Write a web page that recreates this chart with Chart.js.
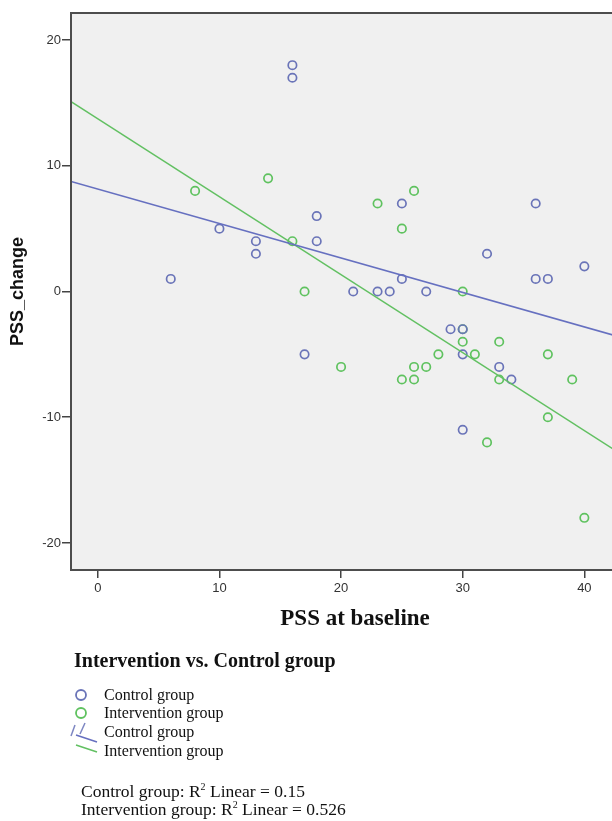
<!DOCTYPE html>
<html>
<head>
<meta charset="utf-8">
<script src="https://cdn.jsdelivr.net/npm/chart.js@4.4.1/dist/chart.umd.min.js"></script>
<style>
  html, body { margin: 0; padding: 0; background: #fff; overflow: hidden; width: 612px; height: 821px; }
  #wrap { position: absolute; left: 0; top: 0; width: 645px; height: 640px; }
  .serif { font-family: "Liberation Serif", "Times New Roman", serif; color: #111; position: absolute; white-space: nowrap; }
  .ttl { left: 74px; top: 649px; font-size: 20px; line-height: 22px; font-weight: bold; }
  .item { left: 104px; font-size: 16px; line-height: 18px; }
  .r2 { left: 81px; font-size: 17.5px; line-height: 18px; }
  .r2 sup { font-size: 10px; vertical-align: 0; position: relative; top: -7px; }
  svg { position: absolute; left: 0; top: 0; }
</style>
</head>
<body>
<div id="wrap"><canvas id="c" width="645" height="640"></canvas></div>
<svg width="612" height="821">
  <circle cx="81" cy="695" r="5" fill="none" stroke="#6a74b8" stroke-width="1.8"/>
  <circle cx="81" cy="713" r="5" fill="none" stroke="#5fc25f" stroke-width="1.8"/>
  <line x1="71" y1="736" x2="75" y2="725" stroke="#7d86c2" stroke-width="1.5"/>
  <line x1="80" y1="734" x2="85" y2="723" stroke="#7d86c2" stroke-width="1.5"/>
  <line x1="76" y1="735" x2="97" y2="742" stroke="#6670c0" stroke-width="1.5"/>
  <line x1="76" y1="745" x2="97" y2="752" stroke="#62c062" stroke-width="1.5"/>
</svg>
<div class="serif ttl">Intervention vs. Control group</div>
<div class="serif item" style="top:686px">Control group</div>
<div class="serif item" style="top:704px">Intervention group</div>
<div class="serif item" style="top:723px">Control group</div>
<div class="serif item" style="top:742px">Intervention group</div>
<div class="serif r2" style="top:782px">Control group: R<sup>2</sup> Linear = 0.15</div>
<div class="serif r2" style="top:800px">Intervention group: R<sup>2</sup> Linear = 0.526</div>
<script>
// Data
const controlX = [16, 16, 10, 13, 13, 18, 18, 6, 25, 36, 32, 40, 36, 37, 25, 21, 23, 24, 27, 17, 29, 30, 30, 33, 34, 30];
const controlY = [18, 17, 5, 4, 3, 6, 4, 1, 7, 7, 3, 2, 1, 1, 1, 0, 0, 0, 0, -5, -3, -3, -5, -6, -7, -11];
const interventionX = [8, 14, 16, 17, 23, 26, 25, 30, 30, 30, 33, 28, 31, 37, 20, 26, 27, 25, 26, 33, 39, 37, 32, 40];
const interventionY = [8, 9, 4, 0, 7, 8, 5, 0, -3, -4, -4, -5, -5, -5, -6, -6, -6, -7, -7, -7, -7, -10, -12, -18];
// Fit line ends (at the plot edges)
const lineX = [-2.2, 44.5];
const controlLineY = [8.75, -4.05];
const interventionLineY = [15.1, -13.85];
const xTicks = [0, 10, 20, 30, 40];
const yTicks = [-20, -10, 0, 10, 20];

const pts = (xs, ys) => xs.map((x, i) => ({ x: x, y: ys[i] }));

const frame = {
  id: 'frame',
  beforeDatasetsDraw(chart) {
    const a = chart.chartArea, ctx = chart.ctx;
    ctx.save();
    ctx.fillStyle = '#f0f0f0';
    ctx.fillRect(a.left, a.top, a.right - a.left, a.bottom - a.top);
    ctx.restore();
  },
  afterDraw(chart) {
    const a = chart.chartArea, ctx = chart.ctx;
    ctx.save();
    ctx.strokeStyle = '#4d4d4d';
    ctx.lineWidth = 2;
    ctx.strokeRect(a.left, a.top, a.right - a.left, a.bottom - a.top);
    ctx.restore();
  }
};

const tickFont = { family: '"Liberation Sans", Arial, sans-serif', size: 13 };

new Chart(document.getElementById('c'), {
  type: 'scatter',
  data: {
    datasets: [
      { label: 'Control group', data: pts(controlX, controlY), pointRadius: 4.2, pointBorderWidth: 1.7,
        borderColor: '#6a74b8', backgroundColor: 'rgba(0,0,0,0)', order: 2 },
      { label: 'Intervention group', data: pts(interventionX, interventionY), pointRadius: 4.2, pointBorderWidth: 1.7,
        borderColor: '#5fc25f', backgroundColor: 'rgba(0,0,0,0)', order: 2 },
      { label: 'Control fit', data: pts(lineX, controlLineY), showLine: true, pointRadius: 0,
        borderColor: '#6670c0', borderWidth: 1.6, order: 1 },
      { label: 'Intervention fit', data: pts(lineX, interventionLineY), showLine: true, pointRadius: 0,
        borderColor: '#62c062', borderWidth: 1.6, order: 1 }
    ]
  },
  options: {
    responsive: false,
    animation: false,
    layout: { padding: { top: 13, left: 0, right: 0, bottom: 0 } },
    plugins: { legend: { display: false }, tooltip: { enabled: false } },
    scales: {
      x: {
        type: 'linear', min: -2.2, max: 44.5,
        afterBuildTicks: s => { s.ticks = xTicks.map(v => ({ value: v })); },
        afterFit: s => { s.height = 70; },
        ticks: { font: tickFont, color: '#333', padding: 3, maxRotation: 0, autoSkip: false },
        grid: { drawOnChartArea: false, drawTicks: true, tickLength: 8, color: '#444', lineWidth: 1.5 },
        border: { display: false },
        title: { display: true, text: 'PSS at baseline', color: '#111',
          font: { family: '"Liberation Serif", "Times New Roman", serif', size: 23, weight: 'bold' },
          padding: { top: 0, bottom: 7 } }
      },
      y: {
        type: 'linear', min: -22.15, max: 22.15,
        afterBuildTicks: s => { s.ticks = yTicks.map(v => ({ value: v })); },
        afterFit: s => { s.width = 71; },
        ticks: { font: tickFont, color: '#333', padding: 1, autoSkip: false },
        grid: { drawOnChartArea: false, drawTicks: true, tickLength: 9, color: '#444', lineWidth: 1.5 },
        border: { display: false },
        title: { display: true, text: 'PSS_change', color: '#111',
          font: { family: '"Liberation Sans", Arial, sans-serif', size: 18, weight: 'bold' },
          padding: { top: 7, bottom: 0 } }
      }
    }
  },
  plugins: [frame]
});
</script>
</body>
</html>
